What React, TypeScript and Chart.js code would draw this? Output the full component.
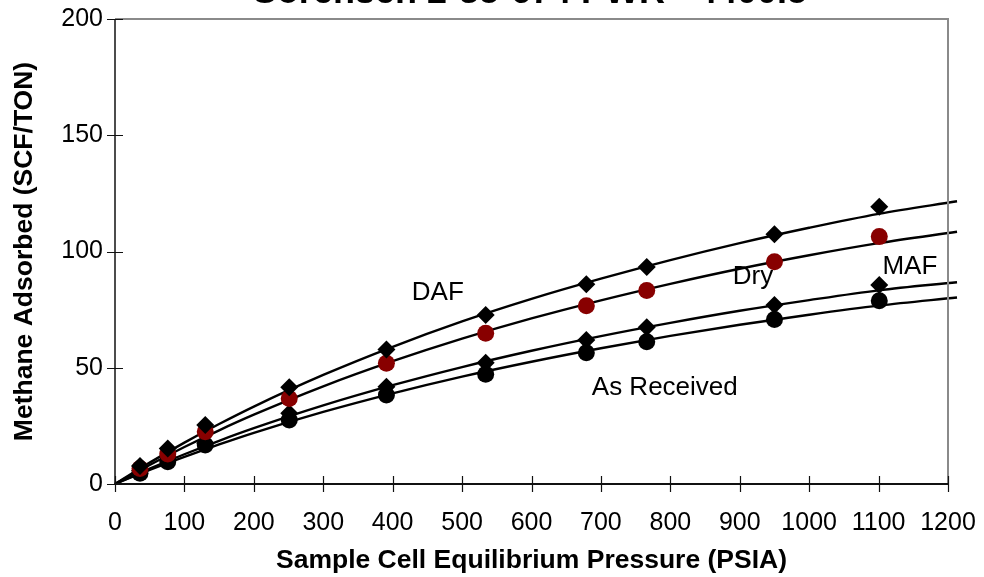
import { useEffect, useRef } from 'react';
import { Chart, registerables } from 'chart.js';

Chart.register(...registerables);

// Measured isotherm points (PSIA vs SCF/TON)
const pressures = [36, 76, 130, 251, 391, 534, 679, 766, 950, 1101];
const dafValues = [7.7, 15.3, 25.4, 41.6, 57.9, 72.7, 85.9, 93.3, 107.4, 119.3];
const dryValues = [6.7, 12.9, 22.5, 36.8, 51.9, 64.8, 76.7, 83.2, 95.6, 106.4];
const mafValues = [5.7, 11.7, 17.5, 30.4, 41.8, 52.2, 61.9, 67.4, 77.0, 85.6];
const asReceivedValues = [4.6, 9.6, 16.8, 27.5, 38.3, 47.2, 56.5, 61.2, 70.8, 78.8];

// Fitted curves
const curvePressures = [0, 50, 100, 150, 200, 300, 400, 500, 600, 700, 800, 900, 1000, 1100, 1213];
const dafCurve = [0, 9.2, 17.8, 25.8, 33.3, 46.9, 59.0, 69.9, 79.6, 88.3, 96.3, 103.6, 110.2, 116.2, 121.6];
const dryCurve = [0, 8.2, 15.9, 23.1, 29.8, 42.0, 52.8, 62.5, 71.2, 79.0, 86.1, 92.6, 98.4, 103.6, 108.5];
const mafCurve = [0, 6.6, 12.8, 18.6, 24.0, 33.8, 42.5, 50.3, 57.3, 63.6, 69.3, 74.5, 79.1, 83.3, 86.8];
const asReceivedCurve = [0, 6.1, 11.7, 17.0, 22.0, 31.0, 39.0, 46.2, 52.6, 58.4, 63.7, 68.5, 72.8, 76.7, 80.2];

// Axis ticks
const xTickValues = [0, 100, 200, 300, 400, 500, 600, 700, 800, 900, 1000, 1100, 1200];
const yTickValues = [0, 50, 100, 150, 200];

// Curve labels (placed in data coordinates)
const curveLabels = ['DAF', 'Dry', 'MAF', 'As Received'];
const labelPressures = [465, 919, 1145, 792];
const labelValues = [82.2, 89.0, 93.3, 41.5];

const chartTitle = 'Sorensen 2-35-674 PWR - 4400.5';
const xTitle = 'Sample Cell Equilibrium Pressure (PSIA)';
const yTitle = 'Methane Adsorbed (SCF/TON)';

const FONT = "'Liberation Sans', Arial, sans-serif";

const toXY = (xs: number[], ys: number[]) => xs.map((x, i) => ({ x, y: ys[i] }));

const decorPlugin = {
  id: 'decor',
  afterDraw(chart: any) {
    const { ctx, chartArea, scales } = chart;
    const { left, right, top, bottom } = chartArea;
    const xs = scales.x;
    const ys = scales.y;
    ctx.save();
    // top / right frame (gray)
    ctx.strokeStyle = '#8a8a8a';
    ctx.lineWidth = 2;
    ctx.beginPath();
    ctx.moveTo(left, top);
    ctx.lineTo(right, top);
    ctx.lineTo(right, bottom);
    ctx.stroke();
    // axes (dark)
    ctx.strokeStyle = '#111';
    ctx.lineWidth = 1.5;
    ctx.beginPath();
    ctx.moveTo(left, top);
    ctx.lineTo(left, bottom);
    ctx.stroke();
    ctx.lineWidth = 2;
    ctx.beginPath();
    ctx.moveTo(left, bottom);
    ctx.lineTo(right, bottom);
    ctx.stroke();
    // cross tick marks
    ctx.lineWidth = 1.2;
    ctx.beginPath();
    yTickValues.forEach((v) => {
      const py = Math.round(ys.getPixelForValue(v)) + 0.5;
      ctx.moveTo(left - 8, py);
      ctx.lineTo(left + 8, py);
    });
    xTickValues.forEach((v) => {
      const px = Math.round(xs.getPixelForValue(v)) + 0.5;
      ctx.moveTo(px, bottom - 8);
      ctx.lineTo(px, bottom + 8);
    });
    ctx.stroke();
    // curve labels
    ctx.fillStyle = '#000';
    ctx.font = `26px ${FONT}`;
    ctx.textAlign = 'center';
    ctx.textBaseline = 'middle';
    curveLabels.forEach((t, i) => {
      ctx.fillText(t, xs.getPixelForValue(labelPressures[i]), ys.getPixelForValue(labelValues[i]));
    });
    // chart title (mostly cut off at the top)
    ctx.font = `bold 36px ${FONT}`;
    ctx.textBaseline = 'alphabetic';
    ctx.fillText(chartTitle, 530, 3);
    ctx.restore();
  },
};

export default function App() {
  const canvasRef = useRef<HTMLCanvasElement | null>(null);

  useEffect(() => {
    document.body.style.margin = '0';
    const canvas = canvasRef.current;
    if (!canvas) return;

    const curveDs = (values: number[]) => ({
      data: toXY(curvePressures, values),
      showLine: true,
      borderColor: '#000',
      borderWidth: 2.4,
      pointRadius: 0,
      pointHoverRadius: 0,
      fill: false,
      cubicInterpolationMode: 'monotone' as const,
      clip: false as any,
      order: 2,
    });
    const markerDs = (values: number[], style: string, color: string, r: number) => ({
      data: toXY(pressures, values),
      showLine: false,
      pointStyle: style,
      pointRadius: r,
      pointHoverRadius: r,
      pointBackgroundColor: color,
      pointBorderColor: color,
      pointBorderWidth: 0,
      backgroundColor: color,
      borderColor: color,
      order: 1,
    });

    const chart = new Chart(canvas, {
      type: 'scatter',
      data: {
        datasets: [
          curveDs(dafCurve),
          curveDs(dryCurve),
          curveDs(mafCurve),
          curveDs(asReceivedCurve),
          markerDs(dafValues, 'rectRot', '#000', 9),
          markerDs(dryValues, 'circle', '#880000', 8.5),
          markerDs(mafValues, 'rectRot', '#000', 9),
          markerDs(asReceivedValues, 'circle', '#000', 8.5),
        ] as any,
      },
      options: {
        responsive: false,
        animation: false,
        devicePixelRatio: 1,
        layout: { padding: { top: 19, right: 36, left: 0, bottom: 0 } },
        plugins: {
          legend: { display: false },
          tooltip: { enabled: false },
          title: { display: false },
        },
        events: [],
        scales: {
          x: {
            type: 'linear',
            min: 0,
            max: 1200,
            ticks: {
              stepSize: 100,
              color: '#000',
              font: { family: FONT, size: 25 },
              padding: 24,
              maxRotation: 0,
              autoSkip: false,
              callback: (v: any) => String(v),
            },
            grid: { display: false, drawTicks: false },
            border: { display: false },
            title: {
              display: true,
              text: xTitle,
              color: '#000',
              font: { family: FONT, size: 26.5, weight: 'bold', lineHeight: 1 },
              padding: { top: 0, bottom: 3 },
            },
            afterFit: (s: any) => {
              s.height = 93;
              s.paddingLeft = 0;
              s.paddingRight = 0;
            },
          },
          y: {
            type: 'linear',
            min: 0,
            max: 200,
            ticks: {
              stepSize: 50,
              color: '#000',
              font: { family: FONT, size: 25 },
              padding: 12,
              callback: (v: any) => String(v),
            },
            grid: { display: false, drawTicks: false },
            border: { display: false },
            title: {
              display: true,
              text: yTitle,
              color: '#000',
              font: { family: FONT, size: 26.5, weight: 'bold', lineHeight: 1 },
              padding: { top: 11, bottom: 0 },
            },
            afterFit: (s: any) => {
              s.width = 115;
              s.paddingTop = 0;
              s.paddingBottom = 0;
            },
          },
        },
      },
      plugins: [decorPlugin],
    });

    return () => chart.destroy();
  }, []);

  return (
    <div style={{ position: 'absolute', left: 0, top: 0, width: 984, height: 577, background: '#fff' }}>
      <canvas ref={canvasRef} width={984} height={577} />
    </div>
  );
}
